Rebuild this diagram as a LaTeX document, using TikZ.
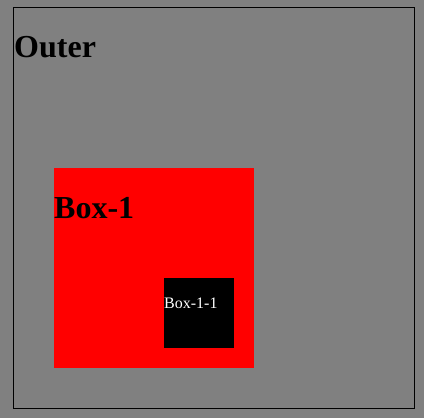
\documentclass[tikz,border=0pt]{standalone}
\usepackage{fontspec}
\setmainfont{Liberation Serif}
\definecolor{bggray}{HTML}{808080}
\begin{document}
\begin{tikzpicture}[x=1pt,y=-1pt,
  boxlabel/.style={anchor=base west,inner sep=0pt,font=\fontsize{32}{38}\selectfont\bfseries},
  smalllabel/.style={anchor=base west,inner sep=0pt,font=\fontsize{16}{19}\selectfont,text=white}]
\fill[bggray] (0,0) rectangle (424,418);
\useasboundingbox (0,0) rectangle (424,418);
\draw[black,line width=1pt] (13.5,7.5) rectangle (414.5,408.5);
\node[boxlabel] (outer) at (14,57) {Outer};
\fill[red] (54,168) rectangle (254,368);
\node[boxlabel] (box1) at (54,218) {Box-1};
\fill[black] (164,278) rectangle (234,348);
\node[smalllabel] (box11) at (164,308) {Box-1-1};
\end{tikzpicture}
\end{document}
